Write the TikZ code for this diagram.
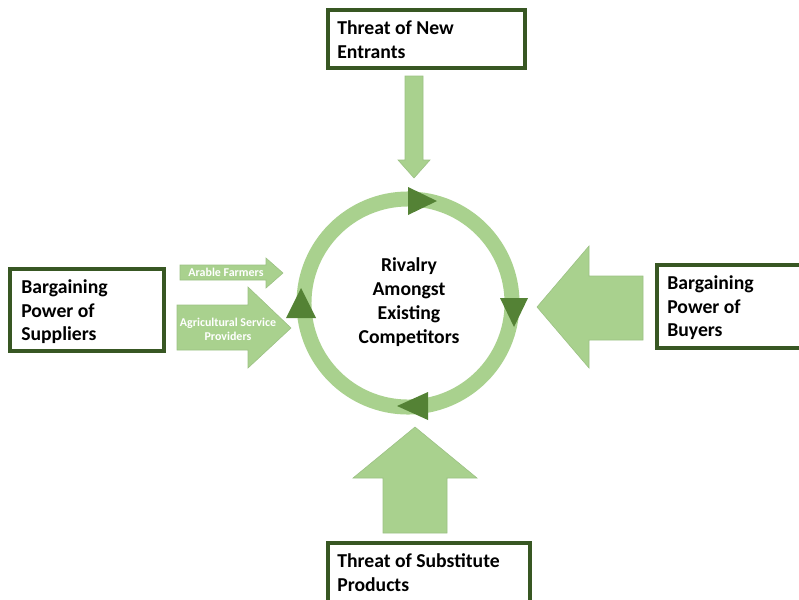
\documentclass[tikz,border=0pt]{standalone}
\usepackage{fontspec}
\setmainfont{Carlito}
\usepackage{xcolor}
\usepackage{tikz}
\usetikzlibrary{positioning}

\definecolor{lightgreen}{HTML}{A9D18E}
\definecolor{darkgreen}{HTML}{548235}
\definecolor{boxgreen}{HTML}{385723}

\begin{document}
\begin{tikzpicture}[x=0.025cm,y=-0.025cm,
  forcebox/.style={draw=boxgreen,line width=2.2pt,fill=white},
  forcetext/.style={anchor=north west,inner sep=0pt,align=left,
    font=\fontsize{14}{17}\selectfont\bfseries},
  blockarrow/.style={fill=lightgreen,draw=lightgreen!92!black,line width=0.4pt},
  arrowtext/.style={inner sep=0pt,align=center,text=white,
    font=\fontsize{8.5}{10}\selectfont\bfseries}]
  \useasboundingbox (0,0) rectangle (799,599);
  \clip (0,0) rectangle (799,599);

  % Kreis
  \draw[lightgreen,line width=0.375cm] (408,303) circle (2.6cm);
  \fill[darkgreen] (408,187) -- (437,201) -- (408,215) -- cycle;
  \fill[darkgreen] (500,298) -- (528,298) -- (514,327) -- cycle;
  \fill[darkgreen] (428,392) -- (428,420) -- (397,406) -- cycle;
  \fill[darkgreen] (286,318) -- (316,318) -- (301,288) -- cycle;
  \node[align=center,inner sep=0pt,font=\fontsize{14}{17}\selectfont\bfseries]
    (rivalry) at (409,302) {Rivalry\\Amongst\\Existing\\Competitors};

  % Pfeile
  \filldraw[blockarrow] (405,76) -- (423,76) -- (423,160) -- (430,160) -- (414,178)
    -- (398,160) -- (405,160) -- cycle;
  \filldraw[blockarrow] (383,533) -- (447,533) -- (447,478) -- (477,478) -- (415,427)
    -- (353,478) -- (383,478) -- cycle;
  \filldraw[blockarrow] (643,276) -- (643,340) -- (589,340) -- (589,368) -- (537,307)
    -- (589,246) -- (589,276) -- cycle;
  \filldraw[blockarrow] (180,265) -- (266,265) -- (266,258) -- (283,273) -- (266,288)
    -- (266,280) -- (180,280) -- cycle;
  \filldraw[blockarrow] (177,305) -- (248,305) -- (248,287) -- (291,328) -- (248,368)
    -- (248,350) -- (177,350) -- cycle;
  \node[arrowtext] (arable) at (226,272) {Arable Farmers};
  \node[arrowtext] (agri) at (228,329) {Agricultural Service\\Providers};

  % Kaesten
  \draw[forcebox] (328,10) rectangle (525,68);
  \node[forcetext] (entrants) at (337,20) {Threat of New\\Entrants};
  \draw[forcebox] (10,269) rectangle (164,351);
  \node[forcetext] (suppliers) at (21,279) {Bargaining\\Power of\\Suppliers};
  \draw[forcebox] (657,265) rectangle (810,348);
  \node[forcetext] (buyers) at (667,275) {Bargaining\\Power of\\Buyers};
  \draw[forcebox] (328,543) rectangle (530,620);
  \node[forcetext] (substitutes) at (337,553) {Threat of Substitute\\Products};
\end{tikzpicture}
\end{document}
